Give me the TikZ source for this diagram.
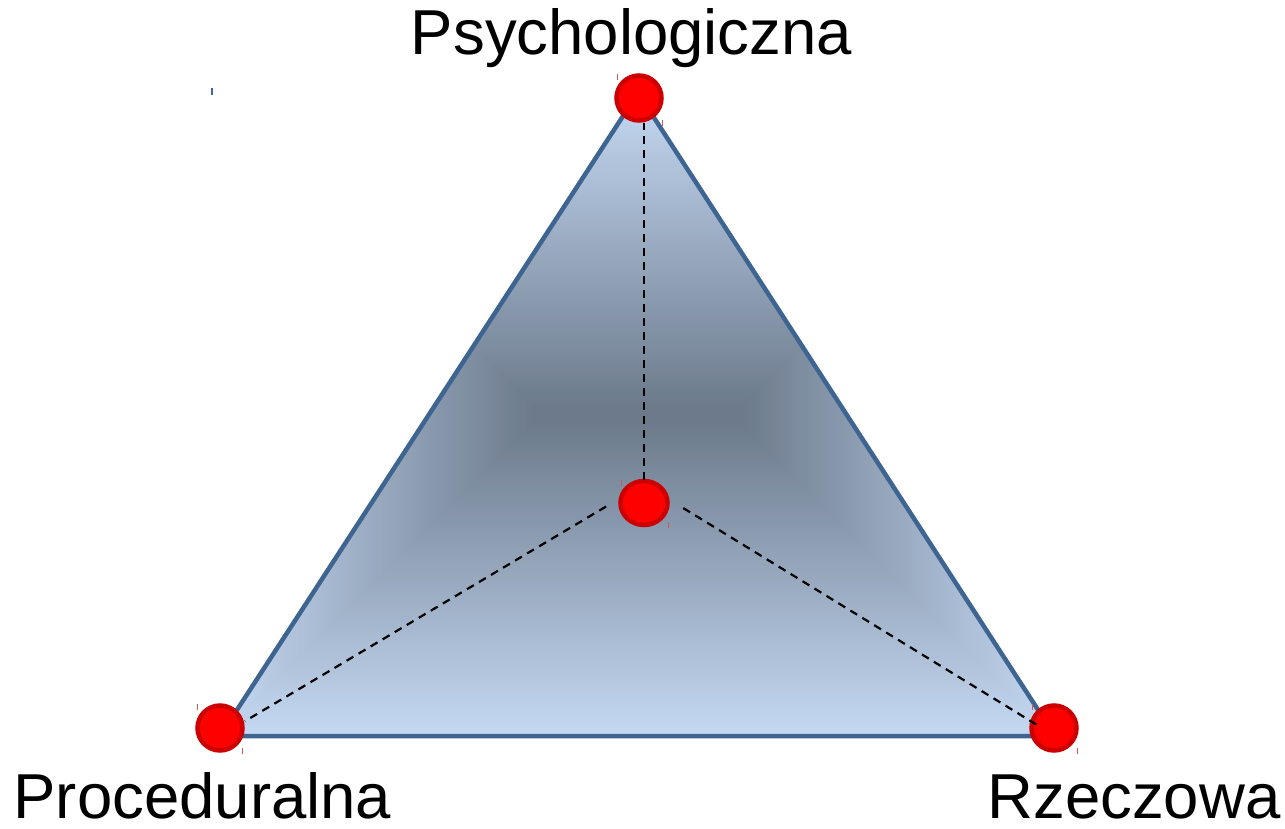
\documentclass[tikz,border=0pt]{standalone}
\usepackage{fontspec}
\usetikzlibrary{shapes.geometric}
\setmainfont{Liberation Sans}
\definecolor{gLight}{HTML}{C4D8F2}
\definecolor{gDark}{HTML}{6C7A8B}
\definecolor{triEdge}{HTML}{3E6491}
\definecolor{dotFill}{HTML}{FF0000}
\definecolor{dotEdge}{HTML}{CC0000}
\definecolor{tickRed}{HTML}{D05A5A}
\definecolor{tickBlue}{HTML}{3F63B0}
\begin{document}
\begin{tikzpicture}[x=1pt,y=-1pt,
  dot/.style={circle, fill=dotFill, draw=dotEdge, line width=4.5pt, minimum size=45pt, inner sep=0pt},
  link/.style={line width=2.2pt, dash pattern=on 8pt off 6pt, black},
  tri/.style={draw=triEdge, line width=4.5pt, line join=round},
  lbl/.style={font=\fontsize{63.5}{70}\selectfont, inner sep=0pt, anchor=base},
  handle/.style={draw=tickRed, line width=1pt}]
\useasboundingbox (0,0) rectangle (1285,829);
% triangle corners
\coordinate (cTop) at (638,93);
\coordinate (cLeft) at (220,736);
\coordinate (cRight) at (1055,736);
\coordinate (hub) at (644,484);
% gradient fill
\begin{scope}
  \clip (cTop) -- (cLeft) -- (cRight) -- cycle;
  \foreach \t in {0,3,...,312} {
    \pgfmathtruncatemacro\p{\t/3.12}
    \fill[gDark!\p!gLight] (220+\t,93+\t) rectangle (1055-\t,737-\t);
  }
\end{scope}
\draw[tri] (cTop) -- (cLeft) -- (cRight) -- cycle;
% dots
\node[dot] (top) at (639,98) {};
\node[dot, ellipse, minimum width=47pt, minimum height=44pt] (center) at (644,503) {};
\node[dot] (left) at (220,728) {};
\node[dot] (right) at (1054,728) {};
% dashed connectors
\draw[link] (hub) ++(0,-4) -- (hub |- top.south);
\draw[link, shorten <=44pt, shorten >=29pt] (hub) -- (cLeft);
\draw[link, shorten <=46pt, shorten >=20pt] (hub) -- (cRight);
% selection handles
\draw[handle] (617,74) -- (617,80);
\draw[handle] (662,120) -- (662,126);
\draw[handle] (621,480) -- (621,486);
\draw[handle] (668,522) -- (668,528);
\draw[handle] (197,704) -- (197,710);
\draw[handle] (242,748) -- (242,754);
\draw[handle] (1032,704) -- (1032,710);
\draw[handle] (1077,748) -- (1077,754);
\draw[draw=tickBlue, line width=1.5pt] (212,88) -- (212,95);
% labels
\node[lbl] (lPsy) at (631.5,55) {Psychologiczna};
\node[lbl] (lProc) at (202.5,818) {Proceduralna};
\node[lbl] (lRzecz) at (1134,818) {Rzeczowa};
\end{tikzpicture}
\end{document}
